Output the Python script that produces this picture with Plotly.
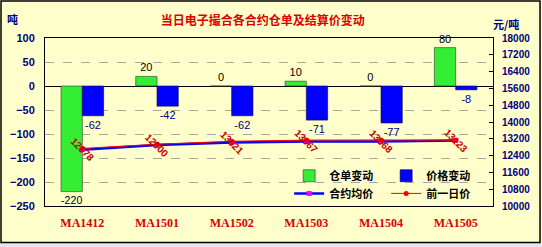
import plotly.graph_objects as go

categories = ["MA1412", "MA1501", "MA1502", "MA1503", "MA1504", "MA1505"]
warrant_change = [-220, 20, 0, 10, 0, 80]
price_change = [-62, -42, -62, -71, -77, -8]
avg_price = [12678, 12900, 13021, 13067, 13068, 13123]
prev_price = [a - c for a, c in zip(avg_price, price_change)]

BG = "#FFFFCC"
NAVY = "#000080"

fig = go.Figure()
fig.add_trace(go.Bar(
    x=categories, y=warrant_change, name="仓单变动",
    marker=dict(color="#33EE33", line=dict(color="#333333", width=0.6)),
    text=[str(v) for v in warrant_change], textposition="outside",
    textfont=dict(family="Liberation Sans", size=11, color="black"),
    cliponaxis=False, legend="legend",
))
fig.add_trace(go.Bar(
    x=categories, y=price_change, name="价格变动",
    marker=dict(color="#0000FF", line=dict(color="#000040", width=0.6)),
    text=[str(v) for v in price_change], textposition="outside",
    textfont=dict(family="Liberation Sans", size=11, color=NAVY),
    cliponaxis=False, legend="legend",
))
fig.add_trace(go.Scatter(
    x=categories, y=avg_price, name="合约均价", yaxis="y2", mode="lines+markers",
    line=dict(color="#0000FF", width=2.5),
    marker=dict(color="#FF00FF", size=5, symbol="square"),
    legend="legend2",
))
fig.add_trace(go.Scatter(
    x=categories, y=prev_price, name="前一日价", yaxis="y2", mode="lines+markers",
    line=dict(color="#FF0000", width=1),
    marker=dict(color="#FF0000", size=5, symbol="circle"),
    legend="legend2",
))

annotations = []
for c, v in zip(categories, avg_price):
    annotations.append(dict(
        x=c, y=v, xref="x", yref="y2", text="<b>" + str(v) + "</b>", showarrow=False,
        textangle=45, font=dict(family="Liberation Sans", size=10, color="#CC0000"),
    ))
annotations += [
    dict(x=-0.09, y=1.17, xref="paper", yref="paper", text="<b>吨</b>", showarrow=False,
         xanchor="left", font=dict(family="Noto Sans CJK SC", size=11, color=NAVY)),
    dict(x=1.062, y=1.14, xref="paper", yref="paper", text="<b>元/吨</b>", showarrow=False,
         xanchor="right", font=dict(family="Noto Sans CJK SC", size=11, color=NAVY)),
]

shapes = [
    dict(type="rect", xref="paper", yref="paper", x0=-0.1004, x1=1.109, y0=-0.244, y1=-0.220,
         fillcolor="#E6E6F0", line=dict(width=0), layer="below"),
    dict(type="rect", xref="paper", yref="paper", x0=-0.0982, x1=1.105, y0=-0.218, y1=1.220,
         fillcolor="rgba(0,0,0,0)", line=dict(color="black", width=1.5)),
]

legend_font = dict(family="Noto Sans CJK SC", size=11, color="black", weight="bold")

fig.update_layout(
    width=542, height=247,
    margin=dict(l=45, r=49, t=38, b=41, autoexpand=False),
    paper_bgcolor=BG, plot_bgcolor=BG,
    barmode="group", bargap=0.43, bargroupgap=0,
    title=dict(text="<b>当日电子撮合各合约仓单及结算价变动</b>", x=0.485, xanchor="center",
               y=0.915, yanchor="middle",
               font=dict(family="Noto Sans CJK SC", size=12, color="#DD0000")),
    xaxis=dict(type="category", showline=True, linecolor="black", linewidth=1, mirror=True,
               ticks="", showgrid=False, ticklabelstandoff=6,
               tickfont=dict(family="Liberation Serif", size=12, color="#DD0000", weight="bold")),
    yaxis=dict(range=[-250, 100], dtick=50, showline=True, linecolor="black", linewidth=1,
               mirror=True, showgrid=True, gridcolor="#A8A8A8", griddash="dash", gridwidth=0.6,
               zeroline=True, zerolinecolor="black", zerolinewidth=1, ticks="",
               ticklabelstandoff=7,
               tickfont=dict(family="Liberation Sans", size=11, color=NAVY, weight="bold")),
    yaxis2=dict(range=[10000, 18000], tick0=10000, dtick=800, tickformat="d",
                overlaying="y", side="right",
                showgrid=False, zeroline=False, showline=True, linecolor="black",
                ticks="inside", ticklen=4, tickcolor="black", ticklabelstandoff=6,
                tickfont=dict(family="Liberation Sans", size=10, color=NAVY, weight="bold")),
    legend=dict(orientation="h", x=0.545, y=0.18, xanchor="left", yanchor="middle",
                bgcolor="rgba(0,0,0,0)", entrywidth=52, entrywidthmode="pixels",
                traceorder="normal", itemwidth=30, font=legend_font),
    legend2=dict(orientation="h", x=0.545, y=0.075, xanchor="left", yanchor="middle",
                 bgcolor="rgba(0,0,0,0)", entrywidth=52, entrywidthmode="pixels",
                 traceorder="normal", itemwidth=30, font=legend_font),
    annotations=annotations,
    shapes=shapes,
    showlegend=True,
)

fig.write_html("out.html")
